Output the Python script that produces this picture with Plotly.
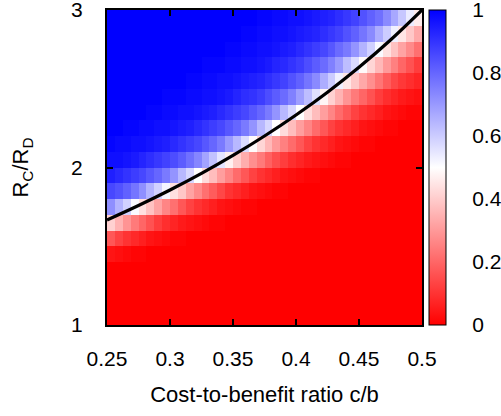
import plotly.graph_objects as go

# ---- data ----
cost_ratio_ticks = [0.25, 0.3, 0.35, 0.4, 0.45, 0.5]
cost_ratio_labels = ["0.25", "0.3", "0.35", "0.4", "0.45", "0.5"]
rc_rd_ticks = [1, 2, 3]
cbar_ticks = [0, 0.2, 0.4, 0.6, 0.8, 1]
cbar_labels = ["0", "0.2", "0.4", "0.6", "0.8", "1"]

# grid: 40 columns over c/b in [0.25, 0.5], 20 rows over R_C/R_D in [1, 3]
x_start, x_step = 0.253125, 0.00625
y_start, y_step = 1.05, 0.1

# fraction of cooperators (percent), rows from bottom (R_C/R_D = 1.05) to top (2.95)
row00 = [0] * 40
row01 = [0] * 40
row02 = [0] * 40
row03 = [0] * 40
row04 = [4, 3, 2, 1, 1, 0, 0, 0, 0, 0, 0, 0, 0, 0, 0, 0, 0, 0, 0, 0, 0, 0, 0, 0, 0, 0, 0, 0, 0, 0, 0, 0, 0, 0, 0, 0, 0, 0, 0, 0]
row05 = [17, 13, 10, 8, 6, 4, 3, 2, 1, 1, 0, 0, 0, 0, 0, 0, 0, 0, 0, 0, 0, 0, 0, 0, 0, 0, 0, 0, 0, 0, 0, 0, 0, 0, 0, 0, 0, 0, 0, 0]
row06 = [41, 35, 29, 24, 20, 16, 12, 9, 7, 5, 4, 3, 2, 1, 1, 0, 0, 0, 0, 0, 0, 0, 0, 0, 0, 0, 0, 0, 0, 0, 0, 0, 0, 0, 0, 0, 0, 0, 0, 0]
row07 = [72, 65, 59, 51, 44, 38, 32, 26, 22, 17, 13, 10, 8, 6, 4, 3, 2, 1, 1, 0, 0, 0, 0, 0, 0, 0, 0, 0, 0, 0, 0, 0, 0, 0, 0, 0, 0, 0, 0, 0]
row08 = [86, 84, 81, 77, 72, 65, 59, 52, 44, 39, 32, 27, 22, 18, 14, 10, 8, 6, 4, 3, 2, 1, 1, 0, 0, 0, 0, 0, 0, 0, 0, 0, 0, 0, 0, 0, 0, 0, 0, 0]
row09 = [94, 92, 90, 88, 86, 83, 80, 76, 71, 64, 58, 50, 43, 37, 31, 26, 21, 17, 13, 10, 8, 6, 4, 3, 2, 1, 1, 0, 0, 0, 0, 0, 0, 0, 0, 0, 0, 0, 0, 0]
row10 = [97, 97, 96, 95, 93, 91, 89, 87, 85, 82, 78, 74, 68, 62, 55, 47, 40, 34, 28, 24, 19, 15, 12, 9, 7, 5, 4, 3, 2, 1, 1, 0, 0, 0, 0, 0, 0, 0, 0, 0]
row11 = [99, 98, 98, 97, 97, 96, 95, 94, 92, 90, 88, 86, 83, 80, 76, 70, 64, 57, 49, 42, 36, 30, 25, 21, 17, 13, 10, 8, 6, 4, 3, 2, 1, 1, 0, 0, 0, 0, 0, 0]
row12 = [100, 100, 99, 99, 98, 98, 97, 97, 96, 95, 94, 92, 90, 88, 86, 83, 80, 76, 71, 64, 58, 50, 43, 37, 31, 26, 21, 17, 13, 10, 8, 6, 4, 3, 2, 1, 1, 0, 0, 0]
row13 = [100, 100, 100, 100, 100, 99, 99, 98, 98, 97, 97, 96, 95, 94, 92, 90, 88, 86, 83, 80, 76, 71, 64, 58, 50, 43, 37, 31, 26, 21, 17, 13, 10, 8, 6, 4, 3, 2, 1, 1]
row14 = [100, 100, 100, 100, 100, 100, 100, 99, 99, 99, 98, 98, 97, 97, 96, 95, 93, 91, 90, 88, 85, 82, 79, 75, 69, 63, 56, 48, 41, 35, 29, 24, 20, 16, 12, 9, 7, 5, 4, 3]
row15 = [100, 100, 100, 100, 100, 100, 100, 100, 100, 100, 99, 99, 98, 98, 97, 97, 96, 95, 94, 93, 91, 89, 87, 84, 81, 77, 73, 66, 60, 53, 45, 39, 33, 28, 23, 18, 14, 11, 9, 7]
row16 = [100, 100, 100, 100, 100, 100, 100, 100, 100, 100, 100, 100, 99, 99, 99, 98, 98, 97, 97, 96, 95, 93, 92, 90, 88, 85, 82, 79, 75, 70, 63, 57, 49, 42, 36, 30, 25, 20, 16, 12]
row17 = [100, 100, 100, 100, 100, 100, 100, 100, 100, 100, 100, 100, 100, 100, 100, 99, 99, 98, 98, 97, 97, 96, 95, 94, 92, 90, 88, 86, 83, 79, 76, 71, 65, 59, 51, 44, 38, 32, 27, 22]
row18 = [100, 100, 100, 100, 100, 100, 100, 100, 100, 100, 100, 100, 100, 100, 100, 100, 100, 99, 99, 98, 98, 97, 97, 96, 95, 94, 93, 91, 89, 87, 84, 81, 77, 73, 66, 60, 53, 45, 39, 33]
row19 = [100, 100, 100, 100, 100, 100, 100, 100, 100, 100, 100, 100, 100, 100, 100, 100, 100, 100, 100, 99, 99, 98, 98, 97, 97, 96, 95, 94, 93, 91, 89, 87, 84, 81, 78, 73, 67, 61, 54, 46]

rows = [row00, row01, row02, row03, row04, row05, row06, row07, row08, row09,
        row10, row11, row12, row13, row14, row15, row16, row17, row18, row19]
z = [[v / 100 for v in r] for r in rows]

# boundary curve (black line)
curve_x = [0.25, 0.275, 0.3, 0.325, 0.35, 0.375, 0.4, 0.425, 0.45, 0.475, 0.5]
curve_y = [1.6667, 1.7586, 1.8571, 1.9630, 2.0769, 2.2, 2.3333, 2.4783, 2.6364, 2.8095, 3.0]

FONT = "Liberation Sans, Arial, Helvetica, sans-serif"

fig = go.Figure()
fig.add_trace(go.Heatmap(
    z=z, x0=x_start, dx=x_step, y0=y_start, dy=y_step,
    zmin=0, zmax=1,
    colorscale=[[0, "#ff0000"], [0.5, "#ffffff"], [1, "#0000ff"]],
    colorbar=dict(
        x=1.0222, xanchor="left", y=0.5, yanchor="middle",
        len=1, thickness=17, xpad=0, ypad=0,
        outlinewidth=1, outlinecolor="black",
        tickvals=cbar_ticks, ticktext=cbar_labels,
        ticks="outside", ticklen=22, tickcolor="rgba(0,0,0,0)",
        ticklabeloverflow="allow",
        tickfont=dict(family=FONT, size=21, color="black"),
    ),
    hoverinfo="skip",
))
fig.add_trace(go.Scatter(
    x=curve_x, y=curve_y, mode="lines",
    line=dict(color="black", width=3.2, shape="spline"),
    showlegend=False, hoverinfo="skip",
))

# small inside dashes on the colour bar
shapes = []
for v in cbar_ticks[1:-1]:
    shapes.append(dict(type="line", xref="paper", yref="paper",
                       x0=1.0222, x1=1.0222 + 0.013, y0=v, y1=v,
                       line=dict(color="black", width=1)))
    shapes.append(dict(type="line", xref="paper", yref="paper",
                       x0=1.0762 - 0.013, x1=1.0762, y0=v, y1=v,
                       line=dict(color="black", width=1)))

axis_common = dict(
    showgrid=False, zeroline=False, showline=True, linecolor="black", linewidth=2,
    mirror="ticks", ticks="inside", ticklen=6, tickwidth=1.5, tickcolor="black",
    tickfont=dict(family=FONT, size=21, color="black"), automargin=False,
    ticklabeloverflow="allow",
)

fig.update_layout(
    width=501, height=416,
    margin=dict(l=107, r=79, t=10, b=91, pad=0, autoexpand=False),
    paper_bgcolor="white", plot_bgcolor="white",
    font=dict(family=FONT, color="black"),
    shapes=shapes,
    xaxis=dict(range=[0.25, 0.5], tickvals=cost_ratio_ticks, ticktext=cost_ratio_labels,
               ticklabelstandoff=14,
               title=dict(text="Cost-to-benefit ratio c/b", font=dict(family=FONT, size=22), standoff=17),
               **axis_common),
    yaxis=dict(range=[1, 3], tickvals=rc_rd_ticks, ticktext=[str(t) for t in rc_rd_ticks],
               ticklabelstandoff=18,
               title=dict(text="R<sub>C</sub>/R<sub>D</sub>", font=dict(family=FONT, size=22), standoff=36),
               **axis_common),
)

fig.write_html("out.html")
